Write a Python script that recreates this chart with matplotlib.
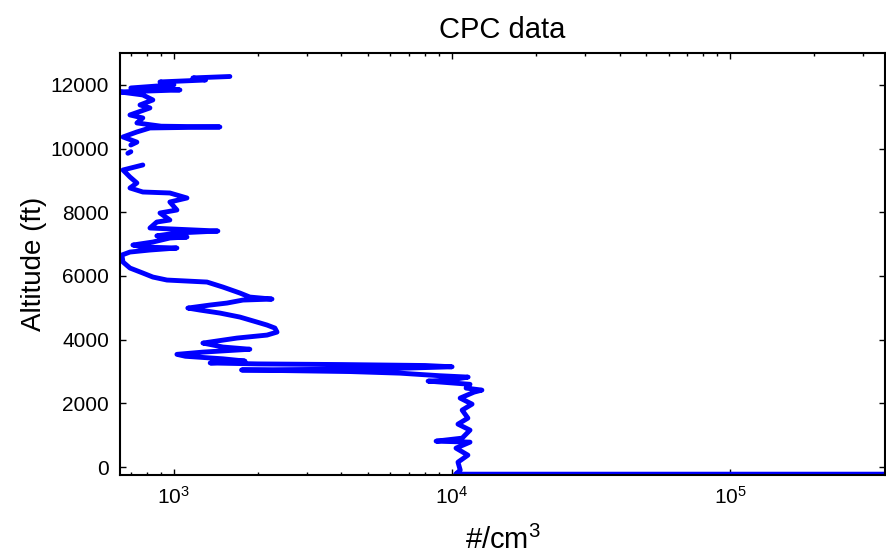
import numpy as np
import matplotlib
matplotlib.use('Agg')
import matplotlib.pyplot as plt

plt.rcParams['font.family'] = ['Liberation Sans', 'DejaVu Sans']
plt.rcParams['mathtext.default'] = 'regular'

# CPC concentration (#/cm3) against altitude (ft), read from the profile
# nan breaks the line where the data has gaps
conc = [400000, 10300, 10700, 10500, 11400, 10330, 11600, 8760, 10870, 11600,
        10500, 11400, 10870, 11800, 10690, 12000, 12800, 11230, 11600, 8200,
        9800, 11420, 9000, 6500, 4300, 2500, 1750, 3500, 7000, 10000,
        8000, 4000, 2000, 1350, 1800, 1500, 1100, 1025, 1270, 1875,
        1500, 1350, 1271, 1685, 2162, 2348, 2307, 2162, 1989, 1727,
        1463, 1240, 1122, 1347, 1552, 1770, 2252, 1875, 1727, 1500,
        1315, 944, 840, 773, 695, 656, 650, 695, 820, 1025,
        773, 712, 840, 967, 1114, 868, 1025, 1439, 820, 868,
        967, 891, 1025, 967, 1114, 967, 773, 695, 736, 695,
        656, 773, np.nan, 683, 700, np.nan, 700, 736, 656, 736,
        820, 1463, 900, 736, 773, 695, 820, 755, 840, 773,
        640, 1051, 700, 1000, 891, 1300, 1170, 1589]
alt = [-220, -220, -94, 157, 377, 597, 785, 816, 911, 1162,
       1350, 1539, 1790, 1978, 2167, 2355, 2418, 2481, 2600, 2700,
       2732, 2826, 2870, 2950, 3000, 3030, 3050, 3070, 3110, 3150,
       3190, 3220, 3240, 3270, 3330, 3400, 3480, 3540, 3610, 3700,
       3770, 3850, 3894, 4051, 4145, 4239, 4365, 4459, 4553, 4710,
       4836, 4930, 4993, 5087, 5150, 5244, 5275, 5338, 5464, 5652,
       5809, 5872, 5966, 6092, 6249, 6437, 6657, 6751, 6814, 6877,
       6908, 6971, 7065, 7191, 7222, 7260, 7348, 7410, 7505, 7693,
       7756, 7976, 8070, 8321, 8447, 8604, 8635, 8761, 8918, 9106,
       9326, 9483, np.nan, 9850, 9900, np.nan, 10110, 10200, 10362, 10519,
       10645, 10676, 10700, 10802, 10959, 11053, 11273, 11367, 11524, 11681,
       11775, 11838, 11900, 12000, 12089, 12150, 12215, 12260]

y_ticks = [0, 2000, 4000, 6000, 8000, 10000, 12000]

fig = plt.figure(figsize=(8.87, 5.57), dpi=100)
ax = fig.add_axes([0.1353, 0.147, 0.8624, 0.758])

ax.plot(conc, alt, color='#0000ff', linewidth=3.5, solid_capstyle='round')

ax.set_xscale('log')
ax.set_xlim(640, 3.6e5)
ax.set_ylim(-250, 13000)
ax.set_yticks(y_ticks)

ax.tick_params(which='both', direction='in', top=True, right=True, labelsize=15, pad=8)
ax.tick_params(which='major', length=4, width=1)
ax.tick_params(which='minor', length=2.5, width=1)
for s in ax.spines.values():
    s.set_linewidth(1.5)

ax.set_title('CPC data', fontsize=21, pad=11)
ax.set_xlabel('#/cm$^3$', fontsize=21, labelpad=13)
ax.set_ylabel('Altitude (ft)', fontsize=20, labelpad=2)

fig.savefig('out.png', dpi=100)
